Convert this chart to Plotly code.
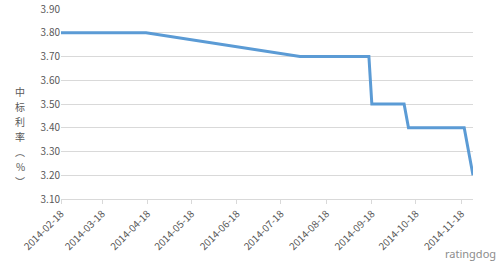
import plotly.graph_objects as go

dates = ["2014-02-18", "2014-04-17", "2014-07-31", "2014-09-16", "2014-09-18",
         "2014-10-10", "2014-10-13", "2014-11-20", "2014-11-26"]
rates = [3.80, 3.80, 3.70, 3.70, 3.50, 3.50, 3.40, 3.40, 3.20]
tick_dates = ["2014-02-18", "2014-03-18", "2014-04-18", "2014-05-18", "2014-06-18",
              "2014-07-18", "2014-08-18", "2014-09-18", "2014-10-18", "2014-11-18"]
y_title_chars = ["中", "标", "利", "率", "︵", "%", "︶"]

PL, PR, PT, PB = 61, 473, 9, 199
fig = go.Figure()
fig.add_trace(go.Scatter(x=dates, y=rates, mode="lines",
                         line=dict(color="#5B9BD5", width=3),
                         hoverinfo="skip", showlegend=False))

font_family = "Noto Sans CJK SC, Noto Sans, sans-serif"
fig.update_layout(
    width=500, height=271,
    margin=dict(l=PL, r=500 - PR, t=PT, b=271 - PB, autoexpand=False),
    paper_bgcolor="white", plot_bgcolor="white",
    font=dict(family=font_family, color="#595959", size=10),
    xaxis=dict(type="date", range=["2014-02-18", "2014-11-26"], automargin=False,
               tickvals=tick_dates, ticktext=tick_dates, tickangle=-45,
               showgrid=False, showline=True, linecolor="#d9d9d9", linewidth=1,
               ticks="outside", ticklen=4, tickcolor="#d9d9d9",
               tickfont=dict(size=10, color="#595959"), zeroline=False),
    yaxis=dict(range=[3.1, 3.9], dtick=0.1, tick0=3.1, tickformat=".2f", automargin=False,
               showgrid=True, gridcolor="#d9d9d9", gridwidth=1,
               showline=False, zeroline=False, ticks="",
               tickfont=dict(size=10, color="#595959")),
)

def px_x(x):
    return (x - PL) / (PR - PL)

def px_y(y):
    return (PB - y) / (PB - PT)

char_ys = [91, 106, 121, 136, 151, 166, 181]
for ch, cy in zip(y_title_chars, char_ys):
    fig.add_annotation(x=px_x(20), y=px_y(cy), xref="paper", yref="paper",
                       xanchor="center", yanchor="middle", text=ch, showarrow=False,
                       borderpad=0,
                       font=dict(size=10, color="#595959", family=font_family))

fig.add_annotation(x=px_x(470), y=px_y(253), xref="paper", yref="paper",
                   xanchor="center", yanchor="middle", text="ratingdog", showarrow=False,
                   font=dict(size=11, color="#8c8c8c", family="Noto Sans, sans-serif"))

fig.write_html("out.html")
